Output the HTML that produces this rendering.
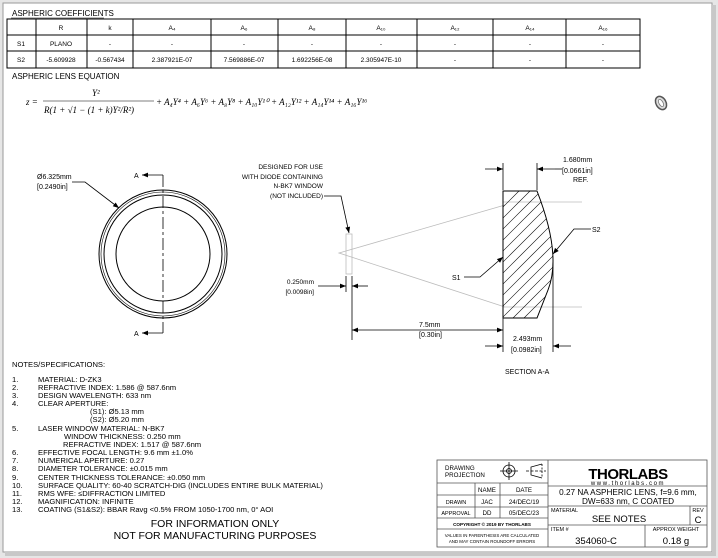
<!DOCTYPE html>
<html><head><meta charset="utf-8"><style>
html,body{margin:0;padding:0;background:#fff;}
svg{display:block;font-family:"Liberation Sans",sans-serif;}
</style></head><body>
<svg width="718" height="558" viewBox="0 0 718 558" xmlns="http://www.w3.org/2000/svg">
<defs>
<marker id="ar" viewBox="0 0 10 10" refX="10" refY="5" markerWidth="9" markerHeight="6" orient="auto-start-reverse" markerUnits="userSpaceOnUse"><path d="M0,1 L10,5 L0,9 Z" fill="#000"/></marker>
<clipPath id="lensclip"><path d="M503,191 L537,191 Q562,255 548,290 L537,318 L503,318 Z"/></clipPath>
</defs>
<rect x="0" y="0" width="718" height="558" fill="#e6e6e6"/>
<rect x="3" y="3" width="709" height="549" fill="#fff" stroke="#9a9a9a" stroke-width="1"/>
<rect x="712" y="5" width="4" height="550" fill="#c8c8c8"/>
<rect x="5" y="552" width="711" height="4" fill="#c8c8c8"/>

<g font-size="8" fill="#000">
<text x="12" y="16">ASPHERIC COEFFICIENTS</text>
<line x1="11" y1="18" x2="104" y2="18" stroke="#000" stroke-width="0.6"/>
</g>
<g stroke="#000" stroke-width="1" fill="none">
<rect x="7" y="19" width="633" height="49"/>
<line x1="7" y1="35" x2="640" y2="35"/><line x1="7" y1="51" x2="640" y2="51"/>
<line x1="36" y1="19" x2="36" y2="68"/><line x1="87" y1="19" x2="87" y2="68"/>
<line x1="133" y1="19" x2="133" y2="68"/><line x1="211" y1="19" x2="211" y2="68"/>
<line x1="278" y1="19" x2="278" y2="68"/><line x1="346" y1="19" x2="346" y2="68"/>
<line x1="417" y1="19" x2="417" y2="68"/><line x1="493" y1="19" x2="493" y2="68"/>
<line x1="566" y1="19" x2="566" y2="68"/>
</g>
<g font-size="6.5" fill="#000" text-anchor="middle">
<text x="61" y="30">R</text><text x="110" y="30">k</text>
<text x="172" y="30">A₄</text><text x="244" y="30">A₆</text><text x="312" y="30">A₈</text>
<text x="381" y="30">A₁₀</text><text x="455" y="30">A₁₂</text><text x="530" y="30">A₁₄</text><text x="603" y="30">A₁₆</text>
<text x="21" y="46">S1</text><text x="61" y="46">PLANO</text>
<text x="110" y="46">-</text><text x="172" y="46">-</text><text x="244" y="46">-</text><text x="312" y="46">-</text><text x="381" y="46">-</text><text x="455" y="46">-</text><text x="530" y="46">-</text><text x="603" y="46">-</text>
<text x="21" y="62">S2</text><text x="61" y="62">-5.609928</text><text x="110" y="62">-0.567434</text>
<text x="172" y="62">2.387921E-07</text><text x="244" y="62">7.569886E-07</text><text x="312" y="62">1.692256E-08</text><text x="381" y="62">2.305947E-10</text>
<text x="455" y="62">-</text><text x="530" y="62">-</text><text x="603" y="62">-</text>
</g>
<text x="12" y="79" font-size="8">ASPHERIC LENS EQUATION</text>

<g font-family="Liberation Serif,serif" font-style="italic" font-size="9" fill="#000">
<text x="26" y="105">z =</text>
<text x="92" y="96">Y²</text>
<line x1="43" y1="101" x2="154" y2="101" stroke="#000" stroke-width="0.6"/>
<text x="44" y="113">R(1 + √1 − (1 + k)Y²/R²)</text>
<text x="156" y="105">+ A₄Y⁴ + A₆Y⁶ + A₈Y⁸ + A₁₀Y¹⁰ + A₁₂Y¹² + A₁₄Y¹⁴ + A₁₆Y¹⁶</text>
</g>
<ellipse cx="661" cy="103" rx="5" ry="7" fill="#ddd" stroke="#555" stroke-width="1.5" transform="rotate(-30 661 103)"/>
<ellipse cx="661" cy="103" rx="2" ry="4" fill="#fff" stroke="#777" stroke-width="0.8" transform="rotate(-30 661 103)"/>

<!-- front view -->
<g stroke="#000" fill="none">
<circle cx="163" cy="254" r="64" stroke-width="1"/>
<circle cx="163" cy="254" r="62" stroke-width="0.6"/>
<circle cx="163" cy="254" r="59" stroke-width="1"/>
<circle cx="163" cy="254" r="47" stroke-width="1"/>
<line x1="163" y1="175" x2="163" y2="333" stroke-width="0.8" stroke-dasharray="12,3,3,3"/>
<line x1="163" y1="175" x2="142" y2="175" stroke-width="0.8" marker-end="url(#ar)"/>
<line x1="163" y1="333" x2="142" y2="333" stroke-width="0.8" marker-end="url(#ar)"/>
<polyline points="72,182 85,182 119,208" stroke-width="0.8" marker-end="url(#ar)"/>
</g>
<g font-size="7" fill="#000">
<text x="134" y="178">A</text><text x="134" y="336">A</text>
<text x="37" y="179">Ø6.325mm</text><text x="37" y="189">[0.2490in]</text>
</g>

<!-- window / cone -->
<g stroke="#bbb" stroke-width="0.8" fill="none">
<rect x="346" y="234" width="6" height="40"/>
<polyline points="505,205 339,253 505,307"/>
<line x1="503" y1="202" x2="582" y2="202"/>
<line x1="503" y1="307" x2="582" y2="307"/>
</g>
<g font-size="6.5" fill="#000" text-anchor="end">
<text x="323" y="169">DESIGNED FOR USE</text>
<text x="323" y="179">WITH DIODE CONTAINING</text>
<text x="323" y="188">N-BK7 WINDOW</text>
<text x="323" y="198">(NOT INCLUDED)</text>
<text x="314" y="284">0.250mm</text>
<text x="314" y="294">[0.0098in]</text>
</g>
<g stroke="#000" stroke-width="0.8" fill="none">
<polyline points="324,196 341,196 349,233" marker-end="url(#ar)"/>
<line x1="346" y1="276" x2="346" y2="292"/><line x1="352" y1="276" x2="352" y2="340"/>
<line x1="318" y1="286" x2="346" y2="286" marker-end="url(#ar)"/>
<line x1="368" y1="286" x2="352" y2="286" marker-end="url(#ar)"/>
<line x1="352" y1="330" x2="503" y2="330" marker-start="url(#ar)" marker-end="url(#ar)"/>
</g>

<!-- lens section -->
<g clip-path="url(#lensclip)" stroke="#000" stroke-width="0.6">
<line x1="480" y1="230" x2="545" y2="165"/><line x1="480" y1="241" x2="556" y2="165"/>
<line x1="480" y1="252" x2="567" y2="165"/><line x1="480" y1="263" x2="578" y2="165"/>
<line x1="480" y1="274" x2="589" y2="165"/><line x1="480" y1="285" x2="600" y2="165"/>
<line x1="480" y1="296" x2="611" y2="165"/><line x1="480" y1="307" x2="622" y2="165"/>
<line x1="480" y1="318" x2="633" y2="165"/><line x1="480" y1="329" x2="644" y2="165"/>
<line x1="480" y1="340" x2="655" y2="165"/><line x1="480" y1="351" x2="666" y2="165"/>
<line x1="480" y1="362" x2="677" y2="165"/>
</g>
<path d="M503,191 L537,191 Q562,255 548,290 L537,318 L503,318 Z" fill="none" stroke="#000" stroke-width="1"/>
<g stroke="#000" stroke-width="0.8" fill="none">
<line x1="503" y1="163" x2="503" y2="190"/><line x1="503" y1="318" x2="503" y2="352"/>
<line x1="537" y1="163" x2="537" y2="190"/>
<line x1="553" y1="262" x2="553" y2="352"/>
<line x1="485" y1="169" x2="503" y2="169" marker-end="url(#ar)"/>
<line x1="555" y1="169" x2="537" y2="169" marker-end="url(#ar)"/>
<line x1="485" y1="346" x2="503" y2="346" marker-end="url(#ar)"/>
<line x1="571" y1="346" x2="553" y2="346" marker-end="url(#ar)"/>
<line x1="555" y1="169" x2="562" y2="169"/>
<polyline points="464,277 480,277 503,257" marker-end="url(#ar)"/>
<polyline points="591,229 574,229 553,254" marker-end="url(#ar)"/>
</g>
<g font-size="7" fill="#000">
<text x="563" y="162">1.680mm</text><text x="562" y="173">[0.0661in]</text><text x="573" y="182">REF.</text>
<text x="419" y="327">7.5mm</text><text x="419" y="337">[0.30in]</text>
<text x="513" y="341">2.493mm</text><text x="511" y="352">[0.0982in]</text>
<text x="452" y="280">S1</text><text x="592" y="232">S2</text>
<text x="505" y="374">SECTION A-A</text>
</g>

<!-- notes -->
<g font-size="7.6" fill="#000">
<text x="12" y="367">NOTES/SPECIFICATIONS:</text>
<text x="12" y="382">1.</text><text x="38" y="382">MATERIAL: D-ZK3</text>
<text x="12" y="390">2.</text><text x="38" y="390">REFRACTIVE INDEX: 1.586 @ 587.6nm</text>
<text x="12" y="398">3.</text><text x="38" y="398">DESIGN WAVELENGTH: 633 nm</text>
<text x="12" y="406">4.</text><text x="38" y="406">CLEAR APERTURE:</text>
<text x="90" y="414">(S1): Ø5.13 mm</text>
<text x="90" y="422">(S2): Ø5.20 mm</text>
<text x="12" y="431">5.</text><text x="38" y="431">LASER WINDOW MATERIAL: N-BK7</text>
<text x="64" y="439">WINDOW THICKNESS: 0.250 mm</text>
<text x="63" y="447">REFRACTIVE INDEX: 1.517 @ 587.6nm</text>
<text x="12" y="455">6.</text><text x="38" y="455">EFFECTIVE FOCAL LENGTH: 9.6 mm ±1.0%</text>
<text x="12" y="463">7.</text><text x="38" y="463">NUMERICAL APERTURE: 0.27</text>
<text x="12" y="471">8.</text><text x="38" y="471">DIAMETER TOLERANCE: ±0.015 mm</text>
<text x="12" y="480">9.</text><text x="38" y="480">CENTER THICKNESS TOLERANCE: ±0.050 mm</text>
<text x="12" y="488">10.</text><text x="38" y="488">SURFACE QUALITY: 60-40 SCRATCH-DIG (INCLUDES ENTIRE BULK MATERIAL)</text>
<text x="12" y="496">11.</text><text x="38" y="496">RMS WFE: ≤DIFFRACTION LIMITED</text>
<text x="12" y="504">12.</text><text x="38" y="504">MAGNIFICATION: INFINITE</text>
<text x="12" y="512">13.</text><text x="38" y="512">COATING (S1&amp;S2): BBAR Ravg &lt;0.5% FROM 1050-1700 nm, 0° AOI</text>
</g>
<g font-size="10.5" fill="#000" text-anchor="middle">
<text x="215" y="527">FOR INFORMATION ONLY</text>
<text x="215" y="539">NOT FOR MANUFACTURING PURPOSES</text>
</g>

<!-- title block -->
<g stroke="#555" stroke-width="0.8" fill="none">
<rect x="437" y="460" width="270" height="87"/>
<line x1="548" y1="460" x2="548" y2="547"/>
<line x1="437" y1="483" x2="548" y2="483"/>
<line x1="437" y1="495" x2="548" y2="495"/>
<line x1="437" y1="507" x2="548" y2="507"/>
<line x1="437" y1="518" x2="548" y2="518"/>
<line x1="437" y1="529" x2="548" y2="529"/>
<line x1="475" y1="483" x2="475" y2="518"/>
<line x1="500" y1="483" x2="500" y2="518"/>
<line x1="548" y1="486" x2="707" y2="486"/>
<line x1="548" y1="506" x2="707" y2="506"/>
<line x1="548" y1="525" x2="707" y2="525"/>
<line x1="690" y1="506" x2="690" y2="525"/>
<line x1="645" y1="525" x2="645" y2="547"/>
</g>
<g stroke="#000" stroke-width="0.8" fill="none">
<circle cx="509" cy="471" r="6"/><circle cx="509" cy="471" r="2.5"/>
<line x1="500" y1="471" x2="518" y2="471"/><line x1="509" y1="462" x2="509" y2="480"/>
<polyline points="542,464 531,467 531,475 542,478"/>
<line x1="542" y1="464" x2="542" y2="478" stroke-dasharray="2,1.5"/>
<line x1="526" y1="471" x2="546" y2="471" stroke-dasharray="3,1.5"/>
</g>
<g fill="#000" font-size="6.2">
<text x="445" y="470">DRAWING</text><text x="445" y="477">PROJECTION</text>
<text x="487" y="492" text-anchor="middle">NAME</text><text x="524" y="492" text-anchor="middle">DATE</text>
<text x="456" y="504" text-anchor="middle" font-size="5.5">DRAWN</text><text x="487" y="504" text-anchor="middle">JAC</text><text x="524" y="504" text-anchor="middle">24/DEC/19</text>
<text x="456" y="515" text-anchor="middle" font-size="5.5">APPROVAL</text><text x="487" y="515" text-anchor="middle">DD</text><text x="524" y="515" text-anchor="middle">05/DEC/23</text>
<text x="492" y="526" text-anchor="middle" font-size="4.6" font-weight="bold">COPYRIGHT © 2019 BY THORLABS</text>
<text x="492" y="537" text-anchor="middle" font-size="4.4">VALUES IN PARENTHESIS ARE CALCULATED</text>
<text x="492" y="543" text-anchor="middle" font-size="4.4">AND MAY CONTAIN ROUNDOFF ERRORS</text>
<text x="628" y="479" text-anchor="middle" font-size="15" font-weight="bold" letter-spacing="-0.5">THORLABS</text>
<text x="628" y="485" text-anchor="middle" font-size="6" letter-spacing="1.6">www.thorlabs.com</text>
<text x="628" y="495" text-anchor="middle" font-size="8.2">0.27 NA ASPHERIC LENS, f=9.6 mm,</text>
<text x="628" y="504" text-anchor="middle" font-size="8.2">DW=633 nm, C COATED</text>
<text x="551" y="512" font-size="5.5">MATERIAL</text>
<text x="619" y="522" text-anchor="middle" font-size="9.5">SEE NOTES</text>
<text x="698" y="512" text-anchor="middle" font-size="5.5">REV</text>
<text x="698" y="523" text-anchor="middle" font-size="9.5">C</text>
<text x="551" y="531" font-size="5.5">ITEM #</text>
<text x="596" y="544" text-anchor="middle" font-size="9.5">354060-C</text>
<text x="676" y="531" text-anchor="middle" font-size="5.5">APPROX WEIGHT</text>
<text x="676" y="544" text-anchor="middle" font-size="9.5">0.18 g</text>
</g>
</svg>
</body></html>
